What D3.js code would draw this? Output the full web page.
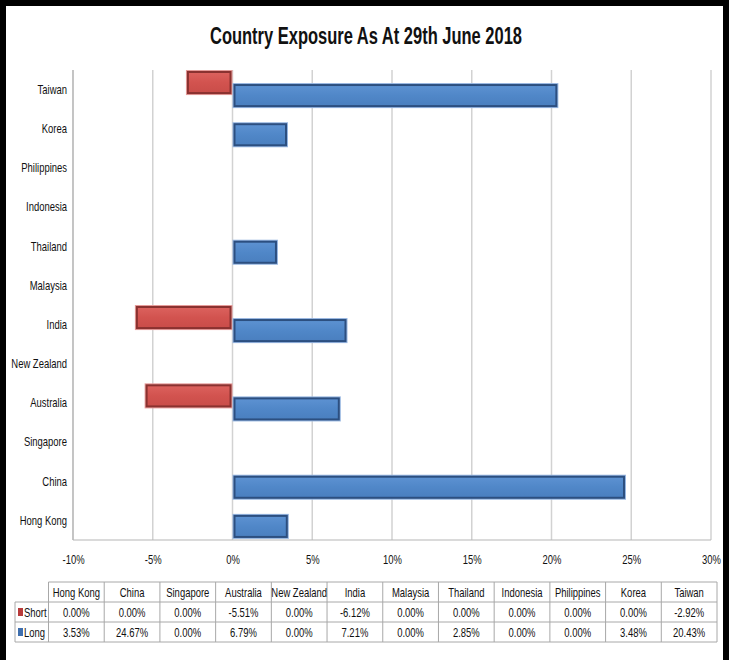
<!DOCTYPE html>
<html>
<head>
<meta charset="utf-8">
<script src="https://cdn.jsdelivr.net/npm/d3@7"></script>
<style>
  html, body { margin: 0; padding: 0; background: #fff; }
  svg { display: block; }
  text { font-family: "Liberation Sans", Arial, sans-serif; fill: #111; }
</style>
</head>
<body>
<svg id="chart" width="732" height="660"></svg>
<script>
// ---- data ----
const categories = ["Hong Kong", "China", "Singapore", "Australia", "New Zealand", "India",
                    "Malaysia", "Thailand", "Indonesia", "Philippines", "Korea", "Taiwan"];
const seriesNames = ["Short", "Long"];
const shortValues = [0.00, 0.00, 0.00, -5.51, 0.00, -6.12, 0.00, 0.00, 0.00, 0.00, 0.00, -2.92];
const longValues  = [3.53, 24.67, 0.00, 6.79, 0.00, 7.21, 0.00, 2.85, 0.00, 0.00, 3.48, 20.43];
const xTicks = [-10, -5, 0, 5, 10, 15, 20, 25, 30];
const titleText = "Country Exposure As At 29th June 2018";

// ---- layout ----
const W = 732, H = 660;
const plot = { left: 73, right: 711, top: 70, bottom: 540 };
const svg = d3.select("#chart");
const NARROW = 0.7;
const FS = 13.5;
const fontT = '"Liberation Sans", Arial, sans-serif';

function condense(sel, f) {
  sel.each(function () {
    const w = this.getComputedTextLength();
    if (w > 0) d3.select(this).attr("textLength", w * f).attr("lengthAdjust", "spacingAndGlyphs");
  });
}

// outer frame
svg.append("rect").attr("x", 0).attr("y", 0).attr("width", W).attr("height", H).attr("fill", "#fff");
svg.append("rect").attr("x", 0).attr("y", 0).attr("width", 729).attr("height", 6).attr("fill", "#000");
svg.append("rect").attr("x", 0).attr("y", 0).attr("width", 6).attr("height", H).attr("fill", "#000");
svg.append("rect").attr("x", 723).attr("y", 0).attr("width", 6).attr("height", H).attr("fill", "#000");

// title
svg.append("text")
  .attr("x", 366).attr("y", 44)
  .attr("text-anchor", "middle")
  .attr("font-size", 23).attr("font-weight", "bold")
  .attr("textLength", 312).attr("lengthAdjust", "spacingAndGlyphs")
  .text(titleText);

// scales
const x = d3.scaleLinear().domain([-10, 30]).range([plot.left, plot.right]);
const y = d3.scaleBand().domain(categories.slice().reverse()).range([plot.top, plot.bottom]).padding(0);
const bw = y.bandwidth();

// gridlines
svg.append("g").selectAll("line").data(xTicks).join("line")
  .attr("x1", d => x(d)).attr("x2", d => x(d))
  .attr("y1", plot.top).attr("y2", plot.bottom)
  .attr("stroke", "#d2d2d2").attr("stroke-width", 1.5);
svg.append("line").attr("x1", plot.left).attr("x2", plot.left).attr("y1", plot.top).attr("y2", plot.bottom)
  .attr("stroke", "#b5b5b5").attr("stroke-width", 1.2);
svg.append("line").attr("x1", plot.left).attr("x2", plot.right).attr("y1", plot.bottom).attr("y2", plot.bottom)
  .attr("stroke", "#b5b5b5").attr("stroke-width", 1.2);

// x axis labels
const xAxis = d3.axisBottom(x).tickValues(xTicks).tickSize(0).tickPadding(0).tickFormat(d => d + "%");
const gx = svg.append("g").attr("transform", `translate(0, 554)`).call(xAxis);
gx.select(".domain").remove();
gx.selectAll("text").attr("font-size", FS).attr("fill", "#111").style("font-family", fontT);
condense(gx.selectAll("text"), NARROW);

// y axis labels
const yAxis = d3.axisLeft(y).tickSize(0).tickPadding(6);
const gy = svg.append("g").attr("transform", `translate(${plot.left}, 0)`).call(yAxis);
gy.select(".domain").remove();
gy.selectAll("text").attr("font-size", FS).attr("fill", "#111").style("font-family", fontT);
condense(gy.selectAll("text"), NARROW);

// gradients
const defs = svg.append("defs");
function grad(id, c1, c2, c3) {
  const g = defs.append("linearGradient").attr("id", id).attr("x1", 0).attr("y1", 0).attr("x2", 0).attr("y2", 1);
  g.append("stop").attr("offset", "0%").attr("stop-color", c1);
  g.append("stop").attr("offset", "50%").attr("stop-color", c2);
  g.append("stop").attr("offset", "100%").attr("stop-color", c3);
}
grad("gRed", "#dc625e", "#d2534f", "#c94d49");
grad("gBlue", "#5d92d2", "#5087c8", "#4a7fbf");

const barStyles = {
  Short: { edge: "#e59c9a", dark: "#8a3230", fill: "url(#gRed)", off: 0 },
  Long:  { edge: "#97b6e0", dark: "#2c4f80", fill: "url(#gBlue)", off: bw * 0.333 }
};
const barH = bw * 0.64;

function drawSeries(name, values) {
  const st = barStyles[name];
  const data = categories.map((c, i) => ({ c, v: values[i] })).filter(d => d.v !== 0);
  const g = svg.append("g");
  const sel = g.selectAll("g").data(data).join("g");
  sel.append("rect")
    .attr("x", d => x(Math.min(0, d.v)))
    .attr("y", d => y(d.c) + st.off)
    .attr("width", d => Math.abs(x(d.v) - x(0)))
    .attr("height", barH)
    .attr("fill", st.edge);
  sel.append("rect")
    .attr("x", d => x(Math.min(0, d.v)) + 2)
    .attr("y", d => y(d.c) + st.off + 2)
    .attr("width", d => Math.max(0, Math.abs(x(d.v) - x(0)) - 4))
    .attr("height", barH - 4)
    .attr("fill", st.fill)
    .attr("stroke", st.dark).attr("stroke-width", 2);
}
drawSeries("Short", shortValues);
drawSeries("Long", longValues);

// ---- data table ----
const tbl = { left: 48.5, right: 717, top: 582, rowH: 20, legendLeft: 15 };
const colW = (tbl.right - tbl.left) / categories.length;
const tg = svg.append("g");
const lineColor = "#a8a8a8";

tg.append("line").attr("x1", tbl.left).attr("x2", tbl.right).attr("y1", tbl.top).attr("y2", tbl.top).attr("stroke", lineColor);
[1, 2, 3].forEach(r => {
  tg.append("line").attr("x1", tbl.legendLeft).attr("x2", tbl.right)
    .attr("y1", tbl.top + r * tbl.rowH).attr("y2", tbl.top + r * tbl.rowH).attr("stroke", lineColor);
});
tg.append("line").attr("x1", tbl.legendLeft).attr("x2", tbl.legendLeft)
  .attr("y1", tbl.top + tbl.rowH).attr("y2", tbl.top + 3 * tbl.rowH).attr("stroke", lineColor);
d3.range(categories.length + 1).forEach(i => {
  tg.append("line").attr("x1", tbl.left + i * colW).attr("x2", tbl.left + i * colW)
    .attr("y1", tbl.top).attr("y2", tbl.top + 3 * tbl.rowH).attr("stroke", lineColor);
});
const hdr = tg.selectAll("text.h").data(categories).join("text").attr("class", "h")
  .attr("x", (d, i) => tbl.left + (i + 0.5) * colW)
  .attr("y", tbl.top + tbl.rowH / 2 + 5)
  .attr("text-anchor", "middle").attr("font-size", FS).style("font-family", fontT)
  .text(d => d);
condense(hdr, NARROW);
const fmt = v => v.toFixed(2) + "%";
[shortValues, longValues].forEach((vals, r) => {
  const t = tg.selectAll("text.r" + r).data(vals).join("text").attr("class", "r" + r)
    .attr("x", (d, i) => tbl.left + (i + 0.5) * colW)
    .attr("y", tbl.top + (r + 1) * tbl.rowH + tbl.rowH / 2 + 5)
    .attr("text-anchor", "middle").attr("font-size", FS).style("font-family", fontT)
    .text(fmt);
  condense(t, NARROW);
});
const keyColors = { Short: "#b83b3b", Long: "#3f6fae" };
seriesNames.forEach((n, r) => {
  const cy = tbl.top + (r + 1) * tbl.rowH + tbl.rowH / 2;
  tg.append("rect").attr("x", 18).attr("y", cy - 4).attr("width", 5).attr("height", 8)
    .attr("fill", keyColors[n]);
  const t = tg.append("text").attr("x", 24).attr("y", cy + 5).attr("font-size", FS).style("font-family", fontT).text(n);
  condense(t, NARROW);
});
</script>
</body>
</html>
